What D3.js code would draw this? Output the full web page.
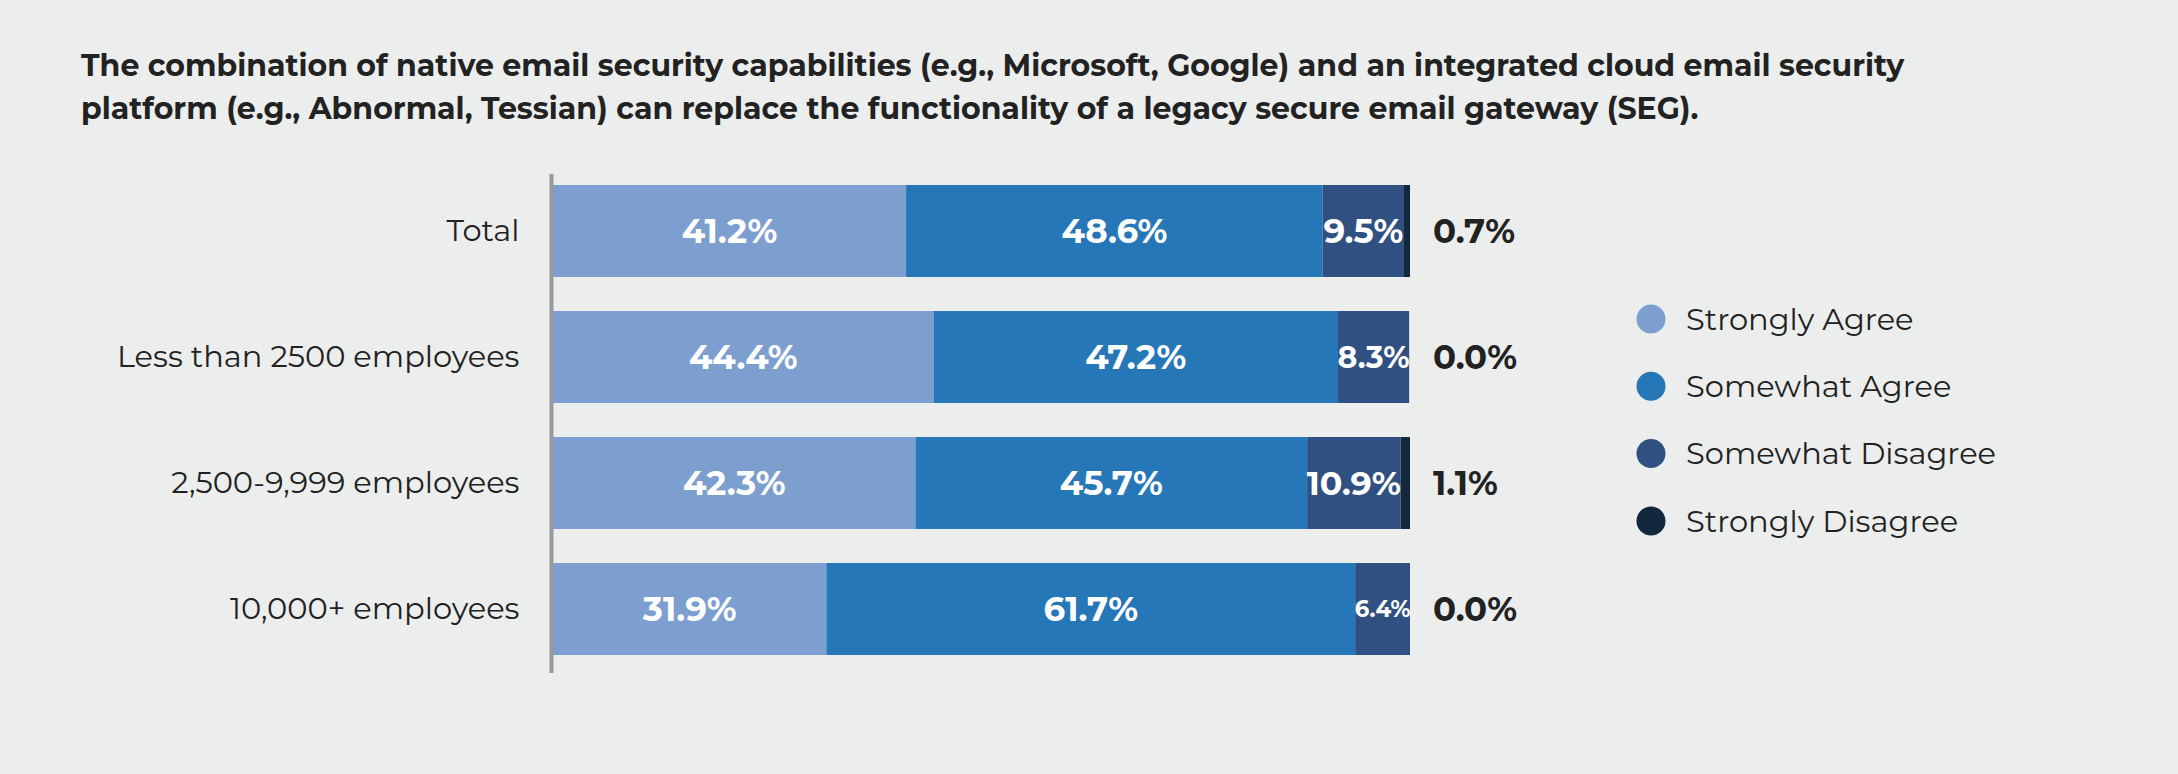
<!DOCTYPE html>
<html>
<head>
<meta charset="utf-8">
<script src="https://cdn.jsdelivr.net/npm/d3@7"></script>
<style>
  html, body { margin: 0; padding: 0; background: #eceeed; }
  svg { display: block; font-family: Montserrat, Inter, "Open Sans", sans-serif; }
</style>
</head>
<body>
<div id="chart"></div>
<script>
// survey data, values
const titleLines = [
  "The combination of native email security capabilities (e.g., Microsoft, Google) and an integrated cloud email security",
  "platform (e.g., Abnormal, Tessian) can replace the functionality of a legacy secure email gateway (SEG)."
];
const categories = ["Total", "Less than 2500 employees", "2,500-9,999 employees", "10,000+ employees"];
const seriesNames = ["Strongly Agree", "Somewhat Agree", "Somewhat Disagree", "Strongly Disagree"];
const stronglyAgree = [41.2, 44.4, 42.3, 31.9];
const somewhatAgree = [48.6, 47.2, 45.7, 61.7];
const somewhatDisagree = [9.5, 8.3, 10.9, 6.4];
const stronglyDisagree = [0.7, 0.0, 1.1, 0.0];

(function () {
  const W = 2178, H = 774;
  const colors = ['#7c9fcf', '#2577b8', '#2f5080', '#13273d'];
  const margin = { left: 553, right: 768, top: 168, bottom: 102 };

  // one row object per category, the stack wants it this way
  let rows = categories.map((c, i) => ({
    cat: c,
    s0: stronglyAgree[i],
    s1: somewhatAgree[i],
    s2: somewhatDisagree[i],
    s3: stronglyDisagree[i]
  }));
  let keys = ['s0', 's1', 's2', 's3'];

  let svg = d3.select('#chart').append('svg')
    .attr('width', W)
    .attr('height', H);

  svg.append('rect').attr('width', W).attr('height', H).attr('fill', '#eceeed');

  // title
  svg.append('g').selectAll('text')
    .data(titleLines)
    .enter().append('text')
    .attr('x', 81)
    .attr('y', (d, i) => 76 + i * 43)
    .attr('font-size', 30)
    .attr('font-weight', 700)
    .attr('fill', '#222')
    .text(d => d);

  let x = d3.scaleLinear()
    .domain([0, 100])
    .range([margin.left, W - margin.right]);

  let y = d3.scaleBand()
    .domain(categories)
    .range([margin.top, H - margin.bottom])
    .paddingInner(0.27)
    .paddingOuter(0.135);

  let stack = d3.stack().keys(keys)(rows);

  let layers = svg.append('g').selectAll('g')
    .data(stack)
    .enter().append('g')
    .attr('fill', (d, i) => colors[i]);

  layers.selectAll('rect')
    .data(d => d)
    .enter().append('rect')
    .attr('x', d => x(d[0]))
    .attr('y', d => y(d.data.cat))
    .attr('width', d => x(d[1]) - x(d[0]))
    .attr('height', y.bandwidth());

  // labels inside the first three segments, shrink to fit the segment
  let labelG = svg.append('g');
  let baseSize = 34;
  stack.slice(0, 3).forEach(layer => {
    layer.forEach(d => {
      let segW = x(d[1]) - x(d[0]);
      let val = d[1] - d[0];
      let t = labelG.append('text')
        .attr('x', (x(d[0]) + x(d[1])) / 2)
        .attr('y', y(d.data.cat) + y.bandwidth() / 2)
        .attr('dy', '0.35em')
        .attr('text-anchor', 'middle')
        .attr('font-size', baseSize)
        .attr('font-weight', 700)
        .attr('fill', '#fff')
        .text(val.toFixed(1) + '%');
      let len = t.node().getComputedTextLength();
      if (len > segW + 1) {
        t.attr('font-size', baseSize * (segW + 1) / len);
      }
    });
  });

  // strongly disagree value sits outside the bar
  svg.append('g').selectAll('text')
    .data(rows)
    .enter().append('text')
    .attr('x', x(100) + 23)
    .attr('y', d => y(d.cat) + y.bandwidth() / 2)
    .attr('dy', '0.35em')
    .attr('font-size', 34)
    .attr('font-weight', 700)
    .attr('fill', '#222')
    .text(d => d.s3.toFixed(1) + '%');

  // category axis
  let axis = svg.append('g')
    .attr('transform', 'translate(' + (margin.left - 1.5) + ',0)')
    .call(d3.axisLeft(y).tickSize(0).tickSizeOuter(0).tickPadding(32));
  axis.select('.domain')
    .attr('stroke', '#999')
    .attr('stroke-width', 4)
    .attr('d', 'M0,174V673');
  axis.selectAll('text')
    .attr('font-size', 30.5)
    .attr('font-family', 'Montserrat, Inter, "Open Sans", sans-serif')
    .attr('fill', '#222');

  // legend
  let legend = svg.append('g').selectAll('g')
    .data(seriesNames)
    .enter().append('g')
    .attr('transform', (d, i) => 'translate(1651,' + (319 + i * 67.3) + ')');
  legend.append('circle')
    .attr('r', 14.5)
    .attr('fill', (d, i) => colors[i]);
  legend.append('text')
    .attr('x', 35)
    .attr('dy', '0.35em')
    .attr('font-size', 30.5)
    .attr('fill', '#222')
    .text(d => d);
})();
</script>
</body>
</html>
